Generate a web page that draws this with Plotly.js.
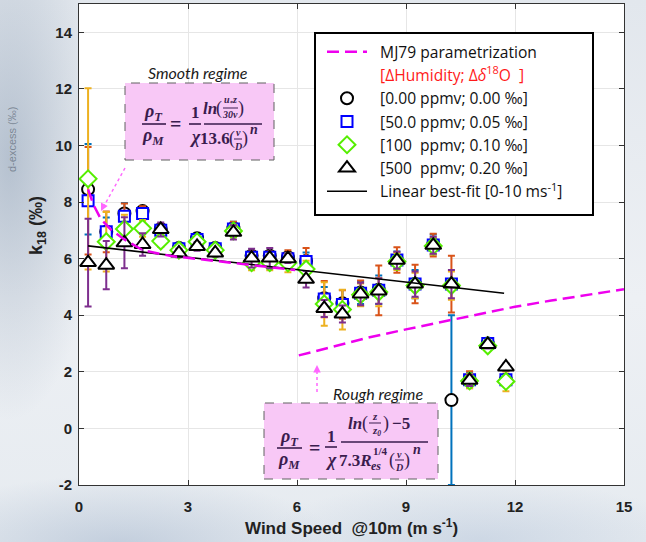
<!DOCTYPE html>
<html>
<head>
<meta charset="utf-8">
<script src="https://cdn.plot.ly/plotly-3.0.1.min.js"></script>
<style>
html,body{margin:0;padding:0;}
body{
  width:646px;height:542px;overflow:hidden;
  background:
    radial-gradient(ellipse 90px 260px at 10px 160px, rgba(140,158,180,0.55), rgba(140,158,180,0) 100%),
    radial-gradient(ellipse 220px 70px at 120px 545px, rgba(165,182,205,0.55), rgba(165,182,205,0) 100%),
    radial-gradient(ellipse 220px 60px at 480px 540px, rgba(175,192,215,0.45), rgba(175,192,215,0) 100%),
    linear-gradient(180deg, #e2e7ed 0%, #edf0f4 55%, #e6ebf0 100%);
}
#chart{width:646px;height:542px;}
</style>
</head>
<body>
<div id="chart"></div>
<script>
// ---------------- data ----------------
const windSpeed = [0.25,0.75,1.25,1.75,2.25,2.75,3.25,3.75,4.25,4.75,5.25,5.75,6.25,6.75,7.25,7.75,8.25,8.75,9.25,9.75,10.25,10.75,11.25,11.75];

const k18_0ppmv   = [8.45,6.95,7.60,7.68,7.05,6.38,6.72,6.38,7.08,6.10,6.10,6.05,5.92,4.60,4.42,4.80,4.90,5.95,5.10,6.50,1.00,1.72,3.00,1.72];
const err_0ppmv   = [1.60,0.50,0.37,0.15,0.15,0.15,0.18,0.12,0.22,0.15,0.15,0.15,0.30,0.40,0.47,0.40,0.50,0.30,0.50,0.35,3.00,0.25,0.15,0.10];

const k18_50ppmv  = [8.05,6.95,7.50,7.60,7.00,6.35,6.68,6.35,7.05,6.05,6.05,6.00,5.90,4.57,4.38,4.78,4.88,5.95,5.10,6.48,5.10,1.72,3.00,1.72];
const err_50ppmv  = [1.90,0.72,0.45,0.25,0.20,0.15,0.15,0.12,0.25,0.20,0.20,0.30,0.48,0.64,0.50,0.45,0.88,0.45,0.68,0.40,1.00,0.30,0.15,0.12];

const k18_100ppmv = [8.82,6.60,7.05,7.07,6.62,6.30,6.60,6.30,6.98,5.86,5.86,5.85,5.63,4.40,4.20,4.72,4.82,5.90,5.05,6.45,5.05,1.68,2.92,1.66];
const err_100ppmv = [3.20,1.05,0.50,0.30,0.21,0.15,0.15,0.12,0.22,0.27,0.27,0.33,0.30,0.77,0.70,0.40,0.50,0.30,0.45,0.30,0.50,0.25,0.15,0.35];

const k18_500ppmv = [5.86,5.77,6.56,6.50,7.03,6.20,6.43,6.20,6.93,6.02,6.02,6.00,5.27,4.24,4.04,4.75,4.86,5.94,5.10,6.47,5.10,1.70,2.97,2.17];
const err_500ppmv = [1.55,0.85,0.90,0.40,0.25,0.15,0.15,0.12,0.25,0.33,0.36,0.15,0.29,0.30,0.30,0.40,0.45,0.30,0.45,0.30,0.50,0.20,0.15,0.12];

const mjSmoothX = [0.25,0.4,0.6,0.9,1.25,1.75,2.5,3.5,4.5,5.5,5.95];
const mjSmoothY = [8.45,7.9,7.4,7.0,6.68,6.3,6.1,5.95,5.8,5.66,5.6];
const mjRoughX  = [6.05,7,8,9,10,11,12,13,14,15];
const mjRoughY  = [2.58,2.9,3.22,3.5,3.77,4.05,4.3,4.52,4.73,4.92];

const fitX = [0.25,11.7];
const fitY = [6.45,4.78];

const xTickVals = [0,3,6,9,12,15];
const yTickVals = [-2,0,2,4,6,8,10,12,14];
const yTickText = ['-2','0','2','4','6','8','10','12','14'];

const seriesNames = [
  '\u00a0\u00a0[0.00 ppmv; 0.00 \u2030]',
  '\u00a0\u00a0[50.0 ppmv; 0.05 \u2030]',
  '\u00a0\u00a0[100\u00a0 ppmv; 0.10 \u2030]',
  '\u00a0\u00a0[500\u00a0 ppmv; 0.20 \u2030]'
];

// ---------------- geometry helpers (layout only) ----------------
const L = 79, R = 624, T = 4, B = 485;
const X = px => (px - L) / (R - L);
const Y = py => (B - py) / (B - T);

const FC = '#3a1c4e';
const FF = 'Liberation Serif';
const anns = [];
const shapes = [];
function txt(text, px, py, size, extra) {
  anns.push(Object.assign({
    text: text, xref: 'paper', yref: 'paper', x: X(px), y: Y(py),
    xanchor: 'center', yanchor: 'middle', showarrow: false,
    font: {family: FF, size: size, color: FC}
  }, extra || {}));
}
function bar(px1, px2, py, w) {
  shapes.push({type: 'line', xref: 'paper', yref: 'paper', x0: X(px1), x1: X(px2), y0: Y(py), y1: Y(py),
    line: {color: FC, width: w || 1.6}});
}
function box(px1, px2, py1, py2) {
  shapes.push({type: 'rect', xref: 'paper', yref: 'paper', x0: X(px1), x1: X(px2), y0: Y(py2), y1: Y(py1),
    fillcolor: '#f8c8f6', line: {color: '#606060', width: 1, dash: 'dash'}});
}

// legend frame
shapes.push({type: 'rect', xref: 'paper', yref: 'paper', x0: X(315), x1: X(593), y0: Y(215), y1: Y(33),
  fillcolor: 'white', line: {color: 'black', width: 2}});

// ---- Smooth regime box ----
txt('<i>Smooth regime</i>', 198, 73, 16, {font: {family: 'Lato', size: 16, color: '#1a1a1a'}});
box(125, 274, 83, 160);
txt('<b><i>ρ<sub>T</sub></i></b>', 153, 112, 18);
txt('<b><i>ρ<sub>M</sub></i></b>', 153, 136, 18);
bar(142, 166, 124);
txt('<b>=</b>', 175, 124, 20);
txt('<b>1</b>', 195, 112, 17);
txt('<b><i>χ</i></b>', 195, 137, 18);
bar(189, 201, 124);
txt('<b><i>ln</i></b>', 210, 108, 17);
txt('(', 219, 108, 18);
txt('<b><i>u<sub>*</sub>z</i></b>', 230, 101, 10);
bar(223, 238, 108, 1);
txt('<b><i>30ν</i></b>', 230, 115, 10);
txt(')', 241, 108, 18);
bar(204, 262, 124);
txt('<b>13.6</b>', 215, 139, 17);
txt('(', 232, 139, 18);
txt('<b><i>ν</i></b>', 238, 133, 10);
bar(234, 242, 139, 1);
txt('<b><i>D</i></b>', 238, 146, 10);
txt(')', 245, 139, 18);
txt('<b><i>n</i></b>', 254, 129, 14);

// ---- Rough regime box ----
txt('<i>Rough regime</i>', 378, 393, 16, {font: {family: 'Lato', size: 16, color: '#1a1a1a'}});
box(264, 438, 403, 479);
txt('<b><i>ρ<sub>T</sub></i></b>', 289, 437, 18);
txt('<b><i>ρ<sub>M</sub></i></b>', 289, 460, 18);
bar(277, 302, 448);
txt('<b>=</b>', 314, 448, 20);
txt('<b>1</b>', 331, 436, 17);
txt('<b><i>χ</i></b>', 331, 460, 18);
bar(325, 337, 447);
txt('<b><i>ln</i></b>', 355, 423, 17);
txt('(', 365, 423, 18);
txt('<b><i>z</i></b>', 375, 416, 11);
bar(369, 381, 423, 1);
txt('<b><i>z<sub>0</sub></i></b>', 376, 431, 11);
txt(')', 386, 423, 18);
txt('<b>\u22125</b>', 401, 423, 17);
bar(341, 428, 442);
txt('<b>7.3<i>R</i></b>', 355, 460, 17);
txt('<b><i>es</i></b>', 376, 466, 12);
txt('<b>1/4</b>', 380, 451, 11);
txt('(', 392, 460, 18);
txt('<b><i>ν</i></b>', 399, 454, 10);
bar(395, 404, 460, 1);
txt('<b><i>D</i></b>', 399, 467, 10);
txt(')', 407, 460, 18);
txt('<b><i>n</i></b>', 417, 449, 14);

// ---- arrows (dashed pink) ----
shapes.push({type: 'line', xref: 'paper', yref: 'paper', x0: X(125), y0: Y(168), x1: X(104), y1: Y(206),
  line: {color: '#ff66ff', width: 1.5, dash: 'dot'}});
anns.push({text: '', xref: 'paper', yref: 'paper', x: X(101), y: Y(211), ax: 4, ay: -8,
  showarrow: true, arrowhead: 2, arrowsize: 1, arrowwidth: 1.5, arrowcolor: '#ff66ff'});
shapes.push({type: 'line', xref: 'paper', yref: 'paper', x0: X(317), y0: Y(392), x1: X(317), y1: Y(370),
  line: {color: '#ff66ff', width: 1.5, dash: 'dot'}});
anns.push({text: '', xref: 'paper', yref: 'paper', x: X(317), y: Y(365), ax: 0, ay: 8,
  showarrow: true, arrowhead: 2, arrowsize: 1, arrowwidth: 1.5, arrowcolor: '#ff66ff'});

// ---- axis titles & background text ----
anns.push({text: '<b>k<sub>18</sub> (\u2030)</b>', xref: 'paper', yref: 'paper', x: X(37), y: Y(226),
  xanchor: 'center', yanchor: 'middle', showarrow: false, textangle: -90,
  font: {family: 'Liberation Sans', size: 18, color: '#222'}});
anns.push({text: '<b>Wind Speed\u00a0 @10m (m s<sup>-1</sup>)</b>', xref: 'paper', yref: 'paper', x: X(351), y: Y(527),
  xanchor: 'center', yanchor: 'middle', showarrow: false,
  font: {family: 'Liberation Sans', size: 17, color: '#222'}});
anns.push({text: 'd-excess (\u2030)', xref: 'paper', yref: 'paper', x: X(12), y: Y(140),
  xanchor: 'center', yanchor: 'middle', showarrow: false, textangle: -90,
  font: {family: 'Liberation Sans', size: 11, color: 'rgba(70,80,95,0.55)'}});

// ---------------- traces ----------------
function series(y, err, name, symbol, color, ecolor, size, rank) {
  return {
    type: 'scatter', mode: 'markers', x: windSpeed, y: y, name: name, legendrank: rank,
    marker: {symbol: symbol, size: size, color: 'white', line: {color: color, width: 2}},
    error_y: {type: 'data', array: err, visible: true, color: ecolor, thickness: 2, width: 3.5}
  };
}
const traces = [
  series(k18_0ppmv,   err_0ppmv,   seriesNames[0], 'circle',      '#000000', '#0072BD', 12, 3),
  series(k18_50ppmv,  err_50ppmv,  seriesNames[1], 'square',      '#0000ff', '#D95319', 11, 4),
  series(k18_100ppmv, err_100ppmv, seriesNames[2], 'diamond',     '#55ee00', '#EDB120', 13, 5),
  series(k18_500ppmv, err_500ppmv, seriesNames[3], 'triangle-up', '#000000', '#7E2F8E', 14, 6),
  {type: 'scatter', mode: 'lines', x: fitX, y: fitY, name: '\u00a0\u00a0Linear best-fit [0-10 ms<sup>-1</sup>]', legendrank: 7,
   line: {color: 'black', width: 1.6}},
  {type: 'scatter', mode: 'lines', x: mjSmoothX.concat([null], mjRoughX), y: mjSmoothY.concat([null], mjRoughY),
   connectgaps: false, name: '\u00a0\u00a0MJ79 parametrization', legendrank: 1,
   line: {color: '#ee00ee', width: 2.5, dash: '12px,6px'}},
  {type: 'scatter', mode: 'lines', x: [null], y: [null], legendrank: 2,
   name: '<span style="color:#ff1a1a">\u00a0\u00a0[ΔHumidity; Δ<i>δ</i><sup>18</sup>O\u00a0 ]</span>',
   line: {color: 'rgba(0,0,0,0)', width: 0}}
];

const layout = {
  width: 646, height: 542,
  margin: {l: L, r: 646 - R, t: T, b: 542 - B, pad: 0},
  paper_bgcolor: 'rgba(0,0,0,0)',
  plot_bgcolor: 'white',
  showlegend: true,
  legend: {
    x: X(322), y: Y(35), xanchor: 'left', yanchor: 'top',
    bgcolor: 'rgba(0,0,0,0)', borderwidth: 0, itemwidth: 40,
    font: {family: 'Open Sans', size: 15.6, color: '#111'},
    tracegroupgap: 0
  },
  xaxis: {
    range: [0, 15], tickvals: xTickVals, ticks: 'inside', ticklen: 5, tickcolor: '#333',
    showline: true, linecolor: '#333', linewidth: 1, mirror: 'ticks',
    showgrid: true, gridcolor: '#e6e6e6', zeroline: false,
    tickfont: {family: 'Liberation Sans', size: 15, color: '#222', weight: 'bold'},
    ticklabelstandoff: 8
  },
  yaxis: {
    range: [-2, 15], tickvals: yTickVals, ticktext: yTickText, ticks: 'inside', ticklen: 5, tickcolor: '#333',
    showline: true, linecolor: '#333', linewidth: 1, mirror: 'ticks',
    showgrid: true, gridcolor: '#e6e6e6', zeroline: false,
    tickfont: {family: 'Liberation Sans', size: 15, color: '#222', weight: 'bold'},
    ticklabelstandoff: 3
  },
  shapes: shapes,
  annotations: anns
};

Plotly.newPlot('chart', traces, layout, {displayModeBar: false, staticPlot: true});
</script>
</body>
</html>
